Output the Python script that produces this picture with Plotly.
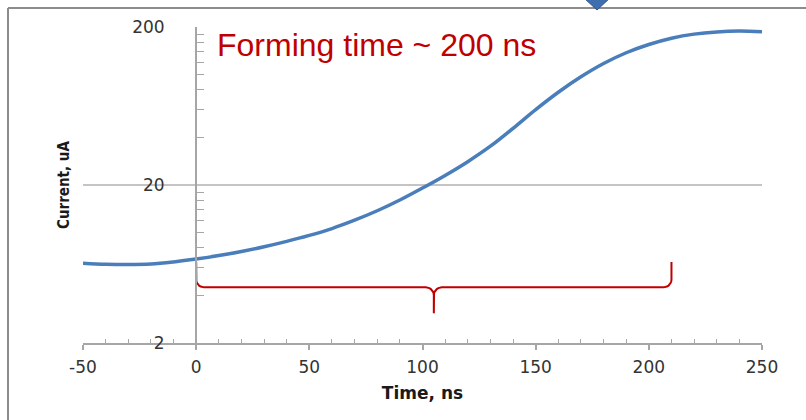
import numpy as np
import plotly.graph_objects as go

# Current transient during forming (log scale)
time_ns = [-50, -40, -30, -20, -10, 0, 10, 20, 30, 40, 50, 60, 70, 80, 90, 100,
           110, 120, 130, 140, 150, 160, 170, 180, 190, 200, 210, 220, 230, 240, 250]
current_ua = [6.4, 6.3, 6.27, 6.32, 6.52, 6.8, 7.15, 7.59, 8.13, 8.79, 9.59, 10.6,
              11.97, 13.74, 16.07, 19.14, 23.0, 28.1, 35.2, 45.7, 60.0, 77.3, 96.8,
              117.5, 137.4, 154.9, 169.8, 180.3, 186.2, 188.4, 186.6]

x_ticks = [-50, 0, 50, 100, 150, 200, 250]
y_ticks = [2, 20, 200]
y_minor = [4, 6, 8, 10, 12, 14, 16, 18, 40, 60, 80, 100, 120, 140, 160, 180]
x_minor = [v for v in range(-40, 250, 10) if v % 50 != 0]

# Forming window marked by a brace
forming_start = 0
forming_end = 210
brace_top = 6.5
brace_level = 4.5
brace_tip = 3.08

RED = "#C00000"
BLUE = "#4A7EBB"
GRID = "#C4C4C4"
AXIS = "#A6A6A6"

W, H = 806, 420
ML, MR, MT, MB = 83, 44, 27, 77
PW, PH = W - ML - MR, H - MT - MB


def px_to_paper(px, py):
    return (px - ML) / PW, (H - MB - py) / PH


def brace_path(x0, x1, ytop, ylev, ytip, rx=3.5, ry=0.05, n=8):
    """Curly brace in (x, log10 y) space, returned in data units."""
    lt, ll, lp = np.log10(ytop), np.log10(ylev), np.log10(ytip)
    xm = (x0 + x1) / 2
    th = np.linspace(0, np.pi / 2, n)
    xs, ys = [x0], [lt]
    # left end: down then turn right
    xs += list(x0 + rx - rx * np.cos(th)); ys += list(ll + ry - ry * np.sin(th))
    # to the middle, dipping down to the tip
    xs += list(xm - rx + rx * np.sin(th)); ys += list(ll - ry + ry * np.cos(th))
    xs += [xm]; ys += [lp]
    xs += [xm]; ys += [ll - ry]
    xs += list(xm + rx - rx * np.cos(th)); ys += list(ll - ry + ry * np.sin(th))
    # right end: run right then turn up
    xs += list(x1 - rx + rx * np.sin(th)); ys += list(ll + ry - ry * np.cos(th))
    xs += [x1]; ys += [lt]
    return xs, [10 ** v for v in ys]


bx, by = brace_path(forming_start, forming_end, brace_top, brace_level, brace_tip)

fig = go.Figure()
fig.add_trace(go.Scatter(x=time_ns, y=current_ua, mode="lines",
                         line=dict(color=BLUE, width=3.5, shape="spline", smoothing=1.0),
                         hoverinfo="skip"))
fig.add_trace(go.Scatter(x=bx, y=by, mode="lines",
                         line=dict(color=RED, width=2), hoverinfo="skip"))

y0p = px_to_paper(196, 0)[0]
TICKFONT = dict(family="DejaVu Sans", size=17, color="#333333")

fig.update_layout(
    width=W, height=H,
    margin=dict(l=ML, r=MR, t=MT, b=MB),
    paper_bgcolor="white", plot_bgcolor="white",
    showlegend=False,
    xaxis=dict(
        range=[-50, 250], tickvals=x_ticks, ticktext=[str(v) for v in x_ticks],
        showgrid=False, zeroline=False, showline=True, linecolor=AXIS, linewidth=2,
        ticks="outside", ticklen=5, tickcolor=AXIS, tickwidth=1.5,
        minor=dict(tickmode="array", tickvals=x_minor, ticks="inside", ticklen=4,
                   tickcolor=AXIS, tickwidth=1.2),
        tickfont=TICKFONT,
        ticklabelstandoff=3,
        title=dict(text="<b>Time, ns</b>", standoff=11,
                   font=dict(family="DejaVu Sans", size=17, color="#1a1a1a")),
    ),
    yaxis=dict(
        type="log", range=[np.log10(2), np.log10(200)],
        tickvals=y_ticks, ticktext=[str(v) for v in y_ticks],
        anchor="free", position=y0p,
        showgrid=True, gridcolor=GRID, gridwidth=1.5,
        zeroline=False, showline=True, linecolor=AXIS, linewidth=2,
        ticks="", ticklabelstandoff=27,
        minor=dict(tickmode="array", tickvals=y_minor, ticks="inside", ticklen=7,
                   tickcolor=AXIS, tickwidth=1.2, showgrid=False),
        tickfont=TICKFONT,
    ),
)

# vertical axis title
tx, ty = px_to_paper(64, 185)
fig.add_annotation(x=tx, y=ty, xref="paper", yref="paper", text="<b>Current, uA</b>",
                   textangle=-90, showarrow=False, xanchor="center", yanchor="middle",
                   font=dict(family="DejaVu Sans Condensed, DejaVu Sans", size=15,
                             color="#1a1a1a"))

# label of the forming window
lx, ly = px_to_paper(215, 45)
fig.add_annotation(x=lx, y=ly, xref="paper", yref="paper", text="Forming time ~ 200 ns",
                   showarrow=False, xanchor="left", yanchor="middle",
                   font=dict(family="Liberation Sans", size=32, color=RED))

# slide frame: left and top edges
fx0, fy0 = px_to_paper(8, 8)
fx1, fy1 = px_to_paper(W, H)
fig.add_shape(type="line", xref="paper", yref="paper", x0=fx0, y0=fy0, x1=fx1, y1=fy0,
              line=dict(color="#8C8C8C", width=2))
fig.add_shape(type="line", xref="paper", yref="paper", x0=fx0, y0=fy0, x1=fx0, y1=fy1,
              line=dict(color="#8C8C8C", width=2))

# downward arrow tip above the frame
ax0, ay0 = px_to_paper(584, -2)
ax1, _ = px_to_paper(610, -2)
axm, aym = px_to_paper(597, 10)
fig.add_shape(type="path", xref="paper", yref="paper",
              path=f"M {ax0},{ay0} L {axm},{aym} L {ax1},{ay0} Z",
              fillcolor="#3F6EAE", line=dict(color="#2F528F", width=1))

fig.write_html("out.html")
